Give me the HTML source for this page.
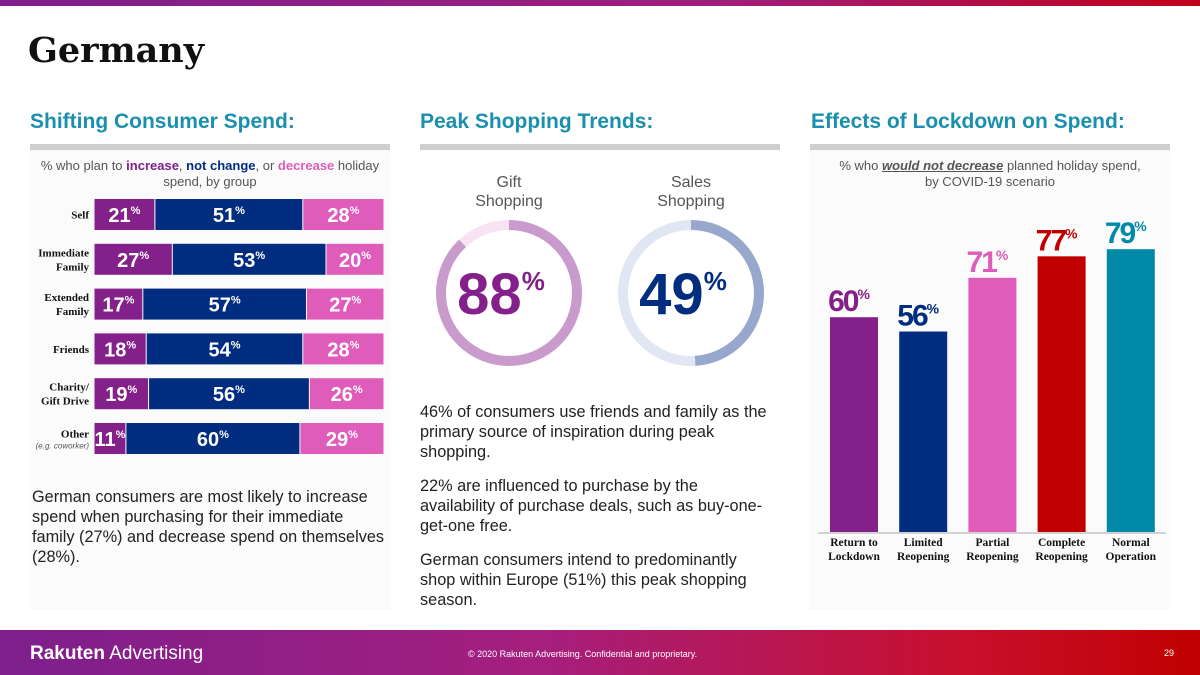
<!DOCTYPE html>
<html><head><meta charset="utf-8"><style>
body{margin:0;width:1200px;height:675px;overflow:hidden;background:#fff;font-family:"Liberation Sans",sans-serif;position:relative}
.abs{position:absolute}
.h2{position:absolute;top:110px;font-weight:bold;font-size:21px;color:#1a8fae}
.rule{position:absolute;top:144px;height:6px;background:#cfcfcf}
.panel{position:absolute;background:#fbfbfb}
.p{font-size:16.3px;color:#222;line-height:20px;position:absolute}
</style></head><body>
<div class="abs" style="left:0;top:0;width:1200px;height:6px;background:linear-gradient(90deg,#7d1f8c,#a01e7c 60%,#c0001a)"></div>
<div class="abs" style="left:28px;top:30px;font-family:'DejaVu Serif',serif;font-weight:bold;font-size:35px;color:#111">Germany</div>
<div class="panel" style="left:30px;top:150px;width:360px;height:460px"></div>
<div class="panel" style="left:810px;top:150px;width:360px;height:460px"></div>
<div class="h2" style="left:30px">Shifting Consumer Spend:</div>
<div class="h2" style="left:420px">Peak Shopping Trends:</div>
<div class="h2" style="left:811px">Effects of Lockdown on Spend:</div>
<div class="rule" style="left:30px;width:360px"></div>
<div class="rule" style="left:420px;width:360px"></div>
<div class="rule" style="left:810px;width:360px"></div>

<svg class="abs" style="left:0;top:0" width="1200" height="675">
<g id="stack"></g>
<g id="donuts"></g>
<g id="bars"></g>
</svg>

<div class="abs" style="left:30px;top:158px;width:360px;text-align:center;font-size:13px;color:#555;line-height:16px">% who plan to <b style="color:#7d1f8c">increase</b>, <b style="color:#002d80">not change</b>, or <b style="color:#e05cbb">decrease</b> holiday spend, by group</div>
<div class="abs" style="left:810px;top:158px;width:360px;text-align:center;font-size:13px;color:#555;line-height:16px">% who <b><u><i>would not decrease</i></u></b> planned holiday spend,<br>by COVID-19 scenario</div>

<div class="p" style="left:32px;top:487px;width:360px">German consumers are most likely to increase spend when purchasing for their immediate<br>family (27%) and decrease spend on themselves (28%).</div>
<div class="p" style="left:420px;top:402px;width:355px">46% of consumers use friends and family as the primary source of inspiration during peak shopping.</div>
<div class="p" style="left:420px;top:476px;width:355px">22% are influenced to purchase by the availability of purchase deals, such as buy-one-get-one free.</div>
<div class="p" style="left:420px;top:550px;width:345px">German consumers intend to predominantly shop within Europe (51%) this peak shopping season.</div>

<div class="abs" style="left:0;top:630px;width:1200px;height:45px;background:linear-gradient(90deg,#7d1f8c,#a51f7e 45%,#c8102e 80%,#c00000)"></div>
<div class="abs" style="left:30px;top:643px;color:#fff;font-size:19px"><b>Rakuten</b> Advertising</div>
<div class="abs" style="left:468px;top:649px;color:#fff;font-size:9px">© 2020 Rakuten Advertising. Confidential and proprietary.</div>
<div class="abs" style="left:1164px;top:648px;color:#fff;font-size:9px">29</div>

<script>
const groups=["Self","Immediate|Family","Extended|Family","Friends","Charity/|Gift Drive","Other"];
const increase=[21,27,17,18,19,11];
const noChange=[51,53,57,54,56,60];
const decrease=[28,20,27,28,26,29];
const donutLabels=["Gift|Shopping","Sales|Shopping"];
const donutValues=[88,49];
const scenarios=["Return to|Lockdown","Limited|Reopening","Partial|Reopening","Complete|Reopening","Normal|Operation"];
const scenarioValues=[60,56,71,77,79];

const NS="http://www.w3.org/2000/svg";
function mk(parent,tag,attrs){const e=document.createElementNS(NS,tag);for(const k in attrs)e.setAttribute(k,attrs[k]);parent.appendChild(e);return e;}
function txt(parent,x,y,str,size,fill,anchor,weight,family){const t=mk(parent,'text',{x:x,y:y,'font-size':size,fill:fill,'text-anchor':anchor,'font-weight':weight||'normal','font-family':family||'Liberation Sans, sans-serif'});t.textContent=str;return t;}

// stacked bars
const sg=document.getElementById('stack');
const sx0=94,sw=290,rowY=i=>199+i*44.8,rh=31;
const segCols=['#84208a','#002d80','#e05cbb'];
groups.forEach((g,i)=>{
  const y=rowY(i);
  const vals=[increase[i],noChange[i],decrease[i]];
  const tot=vals[0]+vals[1]+vals[2];
  let x=sx0;
  vals.forEach((v,j)=>{
    const w=sw*v/tot;
    const r=mk(sg,'rect',{x:x+0.5,y:y,width:w-1,height:rh,fill:segCols[j]});
    
    
    const t=txt(sg,x+w/2,y+23,'',20,'#fff','middle','bold');
    t.innerHTML=v+'<tspan font-size="11" dy="-8">%</tspan>';
    
    
    x+=w;
  });
  const lines=g.split('|');
  const sub=(g==='Other');
  lines.forEach((l,k)=>{
    const ty=y+rh/2+4+(lines.length>1?(k-0.5)*14:0)-(sub?5:0);
    const t=txt(sg,89,ty,l,11,'#111','end','bold','Liberation Serif, serif');
    
    
  });
  if(sub){const t=txt(sg,89,y+rh/2+10,'(e.g. coworker)',8,'#555','end','normal');t.setAttribute('font-style','italic');}
});

// donuts
const dg=document.getElementById('donuts');
const dcx=[509,691],dcy=293,R=68,SW=10;
const donutCols=[['#f8e3f2','#c99bcd','#84208a'],['#e0e6f2','#97a8cc','#002d80']];
donutValues.forEach((v,i)=>{
  const cx=dcx[i];
  const bg=mk(dg,'circle',{cx:cx,cy:dcy,r:R,fill:'none',stroke:donutCols[i][0],'stroke-width':SW});
  
  
  const C=2*Math.PI*R;
  const arc=mk(dg,'circle',{cx:cx,cy:dcy,r:R,fill:'none',stroke:donutCols[i][1],'stroke-width':SW,'stroke-dasharray':(C*v/100)+' '+C,transform:`rotate(-90 ${cx} ${dcy})`});
  
  
  const t=txt(dg,cx-8,dcy+21,'',58,donutCols[i][2],'middle','bold');
  t.innerHTML=v+'<tspan font-size="26" dy="-24">%</tspan>';
  
  
  donutLabels[i].split('|').forEach((l,k)=>{
    const tl=txt(dg,cx,187+k*19,l,16,'#555','middle');
    
    
  });
});

// scenario bars
const bg2=document.getElementById('bars');
const base=532,scale=3.58,bx0=830,pitch=69.2,bw=48;
const yv=v=>base-v*scale;
const barCols=['#84208a','#002d80','#e05cbb','#c00000','#008aa8'];
mk(bg2,'line',{x1:818,x2:1166,y1:base+1,y2:base+1,stroke:'#aaa','stroke-width':1});
scenarioValues.forEach((v,i)=>{
  const x=bx0+i*pitch;
  const r=mk(bg2,'rect',{x:x,y:yv(v),width:bw,height:base-yv(v),fill:barCols[i]});
  
  
  const t=txt(bg2,x+bw/2-6,yv(v)-6,'',30,barCols[i],'middle','bold');
  t.setAttribute('letter-spacing','-2');
  t.innerHTML=v+'<tspan font-size="14" dy="-12">%</tspan>';
  
  
  scenarios[i].split('|').forEach((l,k)=>{
    const tl=txt(bg2,x+bw/2,546+k*14,l,11.5,'#111','middle','bold','Liberation Serif, serif');
    
    
  });
});
</script>
</body></html>
